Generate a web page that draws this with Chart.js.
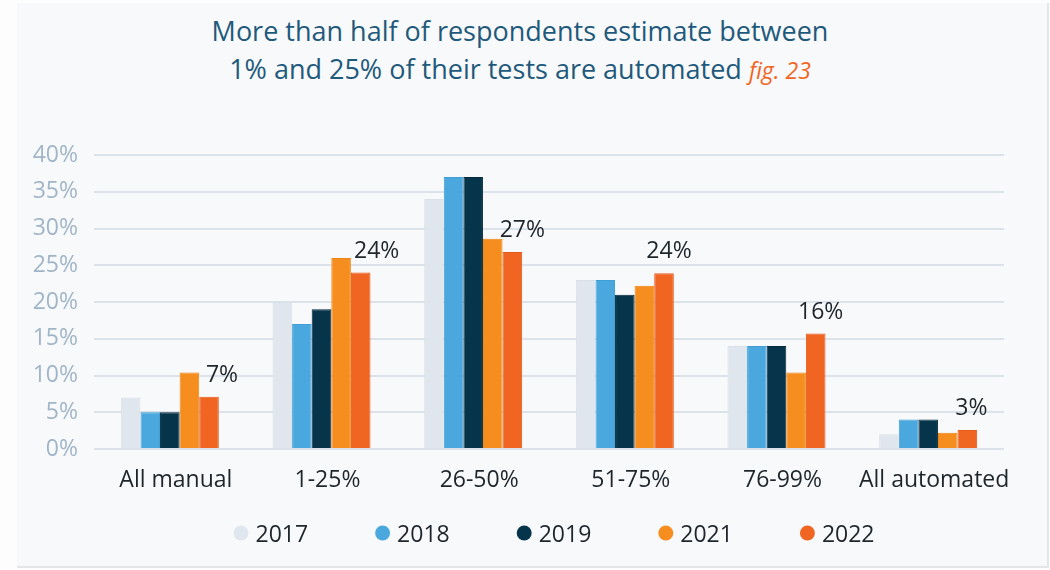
<!DOCTYPE html>
<html>
<head>
<meta charset="utf-8">
<script src="https://cdn.jsdelivr.net/npm/chart.js@4.4.0/dist/chart.umd.min.js"></script>
<style>
  html, body { margin: 0; padding: 0; background: #fdfdfd; }
  body { width: 1050px; height: 570px; position: relative; overflow: hidden; font-family: "Open Sans", sans-serif; }
  .panel { position: absolute; left: 17px; top: 3px; width: 1030px; height: 563px; background: #f8f9fa; border-right: 2px solid #e3e5e7; border-bottom: 2px solid #e3e5e7; }
  .chart_title { position: absolute; left: 0; top: 12px; width: 1040px; text-align: center; color: #1f5a7c; font-size: 27px; line-height: 38px; }
  .fig { color: #f26522; font-style: italic; font-size: 23px; }
  .chart_container { position: absolute; left: 0; top: 0; width: 1050px; height: 570px; }
</style>
</head>
<body>
<div class="panel"></div>
<div class="chart_title">More than half of respondents estimate between<br>1% and 25% of their tests are automated <span class="fig">fig. 23</span></div>
<div class="chart_container"><canvas id="chart"></canvas></div>
<script>
const categories = ["All manual", "1-25%", "26-50%", "51-75%", "76-99%", "All automated"];
const years = ["2017", "2018", "2019", "2021", "2022"];
const values2017 = [7, 20, 34, 23, 14, 2];
const values2018 = [5, 17, 37, 23, 14, 4];
const values2019 = [5, 19, 37, 21, 14, 4];
const values2021 = [10.4, 26, 28.6, 22.2, 10.4, 2.2];
const values2022 = [7.1, 24, 26.8, 23.9, 15.7, 2.6];
const labels2022 = ["7%", "24%", "27%", "24%", "16%", "3%"];

const colors = ["#dfe6ed", "#4aa8df", "#06344a", "#f68e1f", "#f06522"];
const borders = ["#d8e0e8", "#3f9ed6", "#03293b", "#ec8412", "#e45a18"];
const FONT = "'Open Sans', sans-serif";

const series = [values2017, values2018, values2019, values2021, values2022];

// labels drawn over the 2022 bars, nudged a bit right like the original
const valueLabels = {
  id: "valueLabels",
  afterDatasetsDraw(chart, args, opts) {
    const ctx = chart.ctx;
    const meta = chart.getDatasetMeta(opts.dataset);
    ctx.save();
    ctx.font = "23px " + FONT;
    ctx.fillStyle = "#1e252b";
    ctx.textAlign = "center";
    ctx.textBaseline = "alphabetic";
    meta.data.forEach((bar, i) => {
      ctx.fillText(opts.texts[i], bar.x + opts.shift[i], bar.y - 15);
    });
    ctx.restore();
  },
};

// round dot legend under the axis
const dotLegend = {
  id: "dotLegend",
  afterDraw(chart, args, opts) {
    const ctx = chart.ctx;
    ctx.save();
    ctx.font = "23px " + FONT;
    ctx.textBaseline = "alphabetic";
    ctx.textAlign = "left";
    const items = chart.data.datasets.map((ds) => ({
      text: ds.label,
      color: ds.backgroundColor,
      w: ctx.measureText(ds.label).width,
    }));
    const r = 7.5, gap = 7, spacing = 67;
    let total = 0;
    items.forEach((it, i) => {
      total += r * 2 + gap + it.w + (i < items.length - 1 ? spacing : 0);
    });
    const area = chart.chartArea;
    let x = (area.left + area.right) / 2 + opts.dx - total / 2;
    items.forEach((it) => {
      ctx.beginPath();
      ctx.fillStyle = it.color;
      ctx.arc(x + r, opts.y, r, 0, Math.PI * 2);
      ctx.fill();
      ctx.fillStyle = "#1e252b";
      ctx.fillText(it.text, x + r * 2 + gap, opts.y + 9);
      x += r * 2 + gap + it.w + spacing;
    });
    ctx.restore();
  },
};

const ctx = document.getElementById("chart").getContext("2d");
new Chart(ctx, {
  type: "bar",
  data: {
    labels: categories,
    datasets: years.map((y, i) => ({
      label: y,
      data: series[i],
      backgroundColor: colors[i],
      borderColor: borders[i],
      borderWidth: 1,
      barPercentage: 1,
      categoryPercentage: 0.646,
    })),
  },
  options: {
    responsive: true,
    maintainAspectRatio: false,
    animation: false,
    layout: { padding: { left: 0, right: 46, top: 155, bottom: 81 } },
    plugins: {
      legend: { display: false },
      tooltip: { enabled: false },
      valueLabels: { dataset: 4, texts: labels2022, shift: [13, 16, 10, 5, 5, 4] },
      dotLegend: { y: 533, dx: 5 },
    },
    scales: {
      x: {
        grid: { display: false, drawTicks: false },
        border: { display: false },
        ticks: { color: "#1e252b", font: { family: FONT, size: 23 }, padding: 18, labelOffset: 6, maxRotation: 0, autoSkip: false },
        afterFit(scale) { scale.height = 40; },
      },
      y: {
        min: 0,
        max: 40,
        grid: { color: "#dce2e9", lineWidth: 2, drawTicks: false },
        border: { display: false },
        ticks: {
          stepSize: 5,
          color: "#a0b5c8",
          font: { family: FONT, size: 23 },
          padding: 16,
          callback: (v) => v + "%",
        },
        afterFit(scale) { scale.width = 94; },
      },
    },
  },
  plugins: [valueLabels, dotLegend],
});
</script>
</body>
</html>
